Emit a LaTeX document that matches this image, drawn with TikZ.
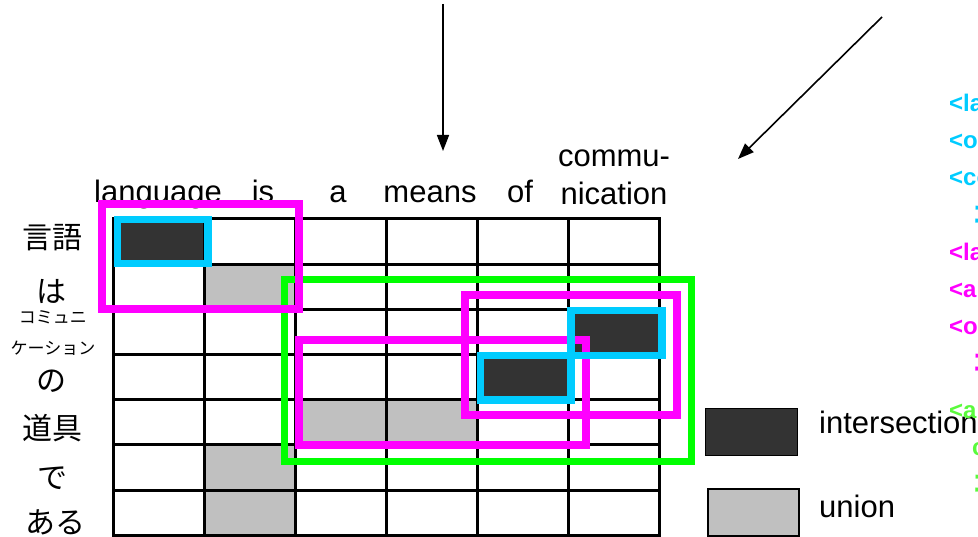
\documentclass[tikz,border=0pt]{standalone}
\usepackage{fontspec}
\setmainfont{Liberation Sans}
\newfontfamily\jpfont{Noto Sans CJK JP}
\newcommand{\jtext}[1]{{\jpfont #1}}
\usetikzlibrary{arrows.meta}
\definecolor{cyanbox}{RGB}{0,204,255}
\definecolor{magbox}{RGB}{255,0,255}
\definecolor{grnbox}{RGB}{0,255,0}
\definecolor{grntext}{RGB}{90,250,60}
\definecolor{darkcell}{RGB}{51,51,51}
\definecolor{greycell}{RGB}{192,192,192}
\begin{document}
\begin{tikzpicture}[x=1pt,y=-1pt,
  hdr/.style={inner sep=0pt, anchor=base, align=center, font=\fontsize{31}{38}\selectfont},
  rowlab/.style={inner sep=0pt, anchor=base, align=center, font=\jpfont\fontsize{30}{36}\selectfont},
  smallrowlab/.style={inner sep=0pt, anchor=base, align=center, font=\jpfont\fontsize{17}{31}\selectfont},
  gridline/.style={line width=3pt, line cap=rect},
  cyanframe/.style={draw=cyanbox, line width=7.5pt},
  magframe/.style={draw=magbox, line width=8pt},
  grnframe/.style={draw=grnbox, line width=7pt},
  tag/.style={inner sep=0pt, anchor=base west, align=left, font=\bfseries\fontsize{24}{37.2}\selectfont},
  legtext/.style={inner sep=0pt, anchor=base west, font=\fontsize{31}{38}\selectfont},
  pointer/.style={line width=1.6pt, -{Triangle[length=16pt,width=12pt]}}
]
\useasboundingbox (0,0) rectangle (978,537);
\clip (0,0) rectangle (978,537);
\fill[white] (0,0) rectangle (978,537);

% arrows
\coordinate (a1s) at (443,4);
\coordinate (a1e) at (443,151);
\draw[pointer] (a1s) -- (a1e);
\coordinate (a2s) at (882,17);
\coordinate (a2e) at (738,159);
\draw[pointer] (a2s) -- (a2e);

% column headers
\node[hdr] (hlang) at (158,203) {language};
\node[hdr] (his) at (263,203) {is};
\node[hdr] (ha) at (338,203) {a};
\node[hdr] (hmeans) at (430,203) {means};
\node[hdr] (hof) at (520,203) {of};
\node[hdr] (hcomm) at (614,205) {commu-\\nication};

% row labels
\node[rowlab] (r1) at (53,249) {言語};
\node[rowlab] (r2) at (51,303) {は};
\node[smallrowlab] (r3) at (53,354.5) {コミュニ\\ケーション};
\node[rowlab] (r4) at (51,392) {の};
\node[rowlab] (r5) at (53,439) {道具};
\node[rowlab] (r6) at (52,488) {で};
\node[rowlab] (r7) at (55,533) {ある};

% union cells
\fill[greycell] (204.5,264.2) rectangle (295.5,309.4);
\fill[greycell] (295.5,399.8) rectangle (477.5,445);
\fill[greycell] (204.5,445) rectangle (295.5,535.4);
% intersection cells
\fill[darkcell] (113.5,219) rectangle (204.5,264.2);
\fill[darkcell] (568.5,309.4) rectangle (659.5,354.6);
\fill[darkcell] (477.5,354.6) rectangle (568.5,399.8);

% grid
\foreach \j in {0,...,7} {
  \draw[gridline] (113.5,{219+45.2*\j}) -- (659.5,{219+45.2*\j});
}
\foreach \i in {0,...,6} {
  \draw[gridline] ({113.5+91*\i},219) -- ({113.5+91*\i},535.4);
}

% frames
\draw[grnframe] (284,280) rectangle (691,461);
\draw[magframe] (102,204) rectangle (299,309);
\draw[magframe] (299,340) rectangle (586,445);
\draw[magframe] (465,295) rectangle (677,415);
\draw[cyanframe] (117.5,219.5) rectangle (208,263.5);
\draw[cyanframe] (571,310.5) rectangle (662,355.5);
\draw[cyanframe] (480.5,355.5) rectangle (571,400);

% legend
\node[draw=black, line width=1pt, fill=darkcell, inner sep=0pt, minimum width=92pt, minimum height=46pt] (legI) at (751,432) {};
\node[draw=black, line width=1.2pt, fill=greycell, inner sep=0pt, minimum width=91pt, minimum height=47pt] (legU) at (753.5,512.5) {};
\node[legtext] (legIt) at (819,434) {intersection};
\node[legtext] (legUt) at (819,517) {union};

% alignment tags (cut off at the right edge, as in the reference)
\node[tag, text=cyanbox] (tc1) at (949,111.5) {<language, \jtext{言語}>};
\node[tag, text=cyanbox] (tc2) at (949,148.7) {<of, \jtext{の}>};
\node[tag, text=cyanbox] (tc3) at (949,223.1) {<communication,\\\hspace*{23pt}\jtext{コミュニケーション}>};
\node[tag, text=magbox] (tm1) at (949,260.3) {<language is, \jtext{言語は}>};
\node[tag, text=magbox] (tm2) at (949,297.5) {<a means of, \jtext{の道具}>};
\node[tag, text=magbox] (tm3) at (949,371.9) {<of communication,\\\hspace*{23pt}\jtext{コミュニケーションの}>};
\node[tag, text=grntext] (tg1) at (949,492.9) {<a means of\\\hspace*{23pt}communication,\\\hspace*{23pt}\jtext{コミュニケーションの道具}>};
\end{tikzpicture}
\end{document}
